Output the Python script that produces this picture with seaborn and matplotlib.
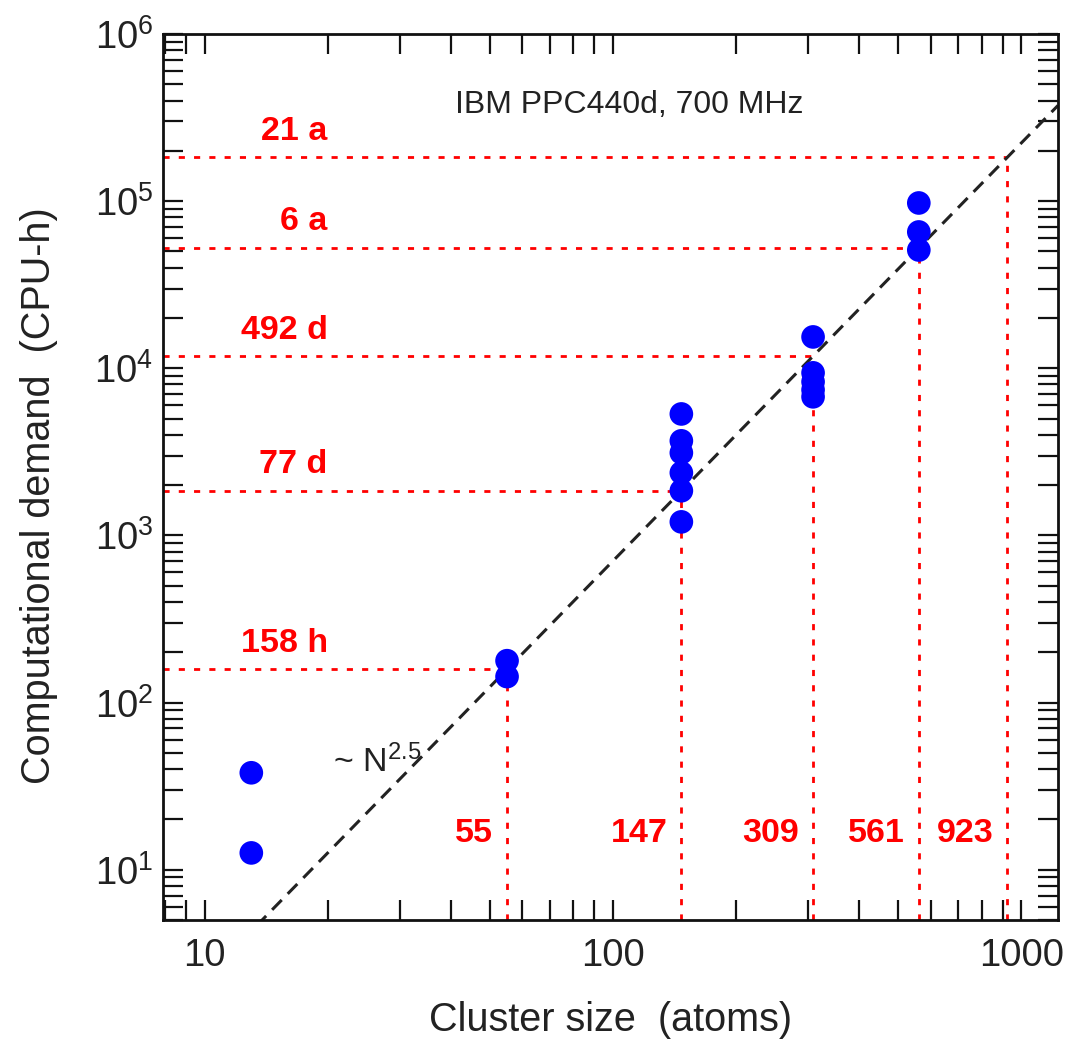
import numpy as np
import pandas as pd
import matplotlib
matplotlib.use("Agg")
import matplotlib.pyplot as plt
import seaborn as sns
from matplotlib.ticker import LogLocator, FuncFormatter, NullFormatter, LogFormatterSciNotation

# ---------------- data ----------------
cluster_size = [13, 13, 55, 55,
                147, 147, 147, 147, 147, 147,
                309, 309, 309, 309, 309,
                561, 561, 561]
cpu_hours = [38, 12.6, 178, 143,
             5330, 3680, 3120, 2370, 1850, 1205,
             15400, 9390, 8300, 7430, 6750,
             97500, 65400, 51000]

magic_sizes = [55, 147, 309, 561, 923]
magic_labels = ["55", "147", "309", "561", "923"]
demand_hours = [158, 1848, 11808, 52560, 183960]
demand_labels = ["158 h", "77 d", "492 d", "6 a", "21 a"]
fit_exponent = 2.5

x_limits = [7.9, 1230]
y_limits = [5, 1e6]

# ---------------- style ----------------
sns.set_style("ticks")
plt.rcParams["font.family"] = ["Liberation Sans", "DejaVu Sans"]
plt.rcParams["mathtext.fontset"] = "custom"
plt.rcParams["mathtext.rm"] = "Liberation Sans"
plt.rcParams["mathtext.it"] = "Liberation Sans:italic"
plt.rcParams["mathtext.bf"] = "Liberation Sans:bold"

TXT = "#222222"
RED = "#ff0000"
BLUE = "#0000ff"

fig = plt.figure(figsize=(10.70, 10.41), dpi=100)
ax = fig.add_axes([163 / 1070, 1 - 920 / 1041, (1058 - 163) / 1070, (920 - 34) / 1041])
ax.set_xscale("log")
ax.set_yscale("log")

# power-law guide line through the annotated points
coef = demand_hours[0] / magic_sizes[0] ** fit_exponent
fit_x = np.array(x_limits)
fit_y = coef * fit_x ** fit_exponent
ax.plot(fit_x, fit_y, color=TXT, lw=2.2, linestyle=(0, (4.5, 2.8)), zorder=2)

# red dotted guides
red_ls = (0, (2.2, 3.3))
for n, h in zip(magic_sizes, demand_hours):
    ax.plot([x_limits[0], n], [h, h], color=RED, lw=2.0, linestyle=red_ls, zorder=1)
    ax.plot([n, n], [y_limits[0], h], color=RED, lw=2.0, linestyle=red_ls, zorder=1)

# data points
df = pd.DataFrame({"size": cluster_size, "hours": cpu_hours})
sns.scatterplot(data=df, x="size", y="hours", ax=ax, color=BLUE, s=290,
                edgecolor="none", linewidth=0, zorder=3, legend=False)

ax.set_xlim(*x_limits)
ax.set_ylim(*y_limits)

# ticks
ax.xaxis.set_major_locator(LogLocator(base=10, numticks=10))
ax.xaxis.set_minor_locator(LogLocator(base=10, subs=np.arange(2, 10), numticks=20))
ax.xaxis.set_major_formatter(FuncFormatter(lambda v, p: f"{v:g}"))
ax.xaxis.set_minor_formatter(NullFormatter())
ax.yaxis.set_major_locator(LogLocator(base=10, numticks=10))
ax.yaxis.set_minor_locator(LogLocator(base=10, subs=np.arange(2, 10), numticks=20))
ax.yaxis.set_major_formatter(LogFormatterSciNotation())
ax.yaxis.set_minor_formatter(NullFormatter())

ax.tick_params(which="both", direction="in", top=True, right=True,
               length=14.5, width=1.6, color="#111111")
ax.tick_params(axis="x", which="major", labelsize=27.5, pad=13, labelcolor=TXT)
ax.tick_params(axis="y", which="major", labelsize=27.5, pad=7, labelcolor=TXT)
for sp in ax.spines.values():
    sp.set_linewidth(2.0)
    sp.set_color("#111111")

ax.set_xlabel("Cluster size  (atoms)", fontsize=28.5, color=TXT)
ax.set_ylabel("Computational demand  (CPU-h)", fontsize=28.5, color=TXT)
ax.xaxis.set_label_coords(0.5, -(1001 - 920) / 886)
ax.yaxis.set_label_coords((58 - 163) / 895, (920 - 496) / 886)

# annotations
for h, lab in zip(demand_hours, demand_labels):
    ax.annotate(lab, xy=(20, h), xytext=(0, 12.5), textcoords="offset points",
                ha="right", va="baseline", color=RED, fontsize=24.5, fontweight="bold")

xt = ax.get_xaxis_transform()
for n, lab in zip(magic_sizes, magic_labels):
    ax.annotate(lab, xy=(n, (920 - 842) / 886), xycoords=xt, xytext=(-10, 0),
                textcoords="offset points", ha="right", va="baseline",
                color=RED, fontsize=24.5, fontweight="bold")

ax.text((629 - 163) / 895, (920 - 105) / 886, "IBM PPC440d, 700 MHz",
        transform=ax.transAxes, ha="center", va="center", fontsize=23, color=TXT)
ax.text((333 - 163) / 895, (920 - 772) / 886, "~ N$^{2.5}$",
        transform=ax.transAxes, ha="left", va="baseline", fontsize=24.5, color=TXT)

fig.savefig("out.png", dpi=100, facecolor="white")
